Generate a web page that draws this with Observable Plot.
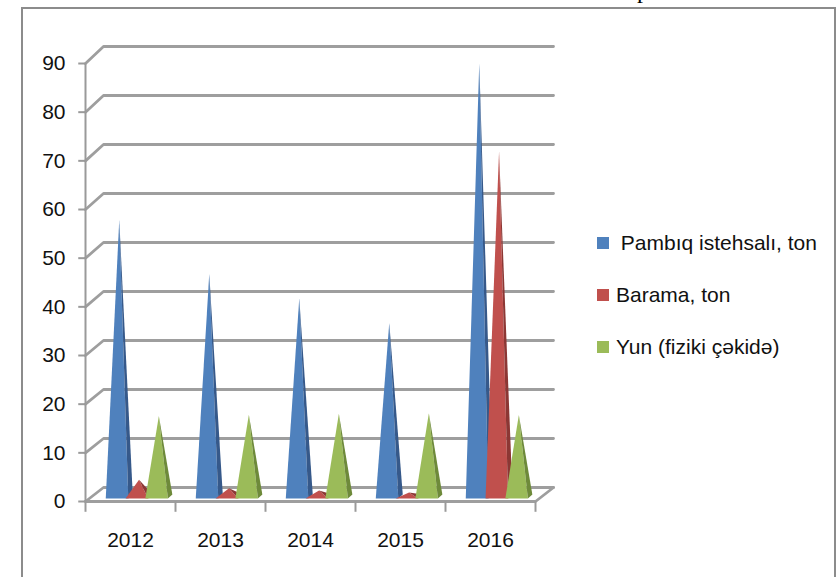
<!DOCTYPE html>
<html><head><meta charset="utf-8">
<script src="https://cdn.jsdelivr.net/npm/d3@7"></script>
<script src="https://cdn.jsdelivr.net/npm/@observablehq/plot@0.6"></script>
<style>
body{margin:0;background:#fff;}
#wrap{position:relative;width:839px;height:577px;overflow:hidden;background:#fff;font-family:"Liberation Sans",Arial,sans-serif;}
#frame{position:absolute;left:21px;top:7px;width:815px;height:620px;border:2px solid #8c8c8c;border-bottom:none;box-sizing:border-box;}
#pmark{position:absolute;left:637px;top:-22px;font-family:"Liberation Serif",serif;font-size:24px;line-height:24px;color:#000;}
#chart{position:absolute;left:0;top:0;}
#legend{position:absolute;left:597px;top:0;}
.item{position:absolute;left:0;white-space:pre;font-size:21px;line-height:24px;color:#111;height:24px;}
.sw{position:absolute;left:0;top:6px;width:12px;height:12px;}
.lab{position:absolute;top:0;}
</style></head><body>
<div id="wrap"><div id="frame"></div><div id="pmark">p</div><div id="chart"></div><div id="legend"></div></div>
<script>
const years = ["2012", "2013", "2014", "2015", "2016"];
const seriesNames = [" Pambıq istehsalı, ton", "Barama, ton", "Yun (fiziki çəkidə)"];
const pambiq = [56, 45, 40, 35, 88];
const barama = [3, 1.3, 0.8, 0.4, 70];
const yun = [16, 16.3, 16.5, 16.6, 16.2];
const yTicks = [0, 10, 20, 30, 40, 50, 60, 70, 80, 90];
const colors = ["#4F81BD", "#C0504D", "#9BBB59"];
const darkColors = ["#36598A", "#8C3734", "#6E8A3A"];

const seriesVals = [pambiq, barama, yun];
const front = t => -1.43 + 0.9932 * t;   // depth transform: front plane
const back = t => 1.43 + t;              // depth transform: back wall
const offsets = [-0.15, 0.07, 0.29];
const hw = 0.125, baseF = -0.8, baseB = 0.0, sideDx = 0.05, apexDx = 0.025;

const faceRows = [];
seriesVals.forEach((vals, s) => vals.forEach((v, i) => {
  const c = i + offsets[s];
  const f = [[c - hw, baseF], [c + hw, baseF], [c + apexDx, v]];
  const d = [[c + hw, baseF], [c + hw + sideDx, baseB], [c + apexDx, v]];
  f.forEach(([x, y]) => faceRows.push({id: `${i}-${s}-f`, x, y, fill: colors[s]}));
  d.forEach(([x, y]) => faceRows.push({id: `${i}-${s}-d`, x, y, fill: darkColors[s]}));
}));

const x0 = -0.5, x1 = years.length - 0.5, depthX = 0.2;
const gridRows = [];
yTicks.forEach(t => {
  gridRows.push({t, x: x0, y: front(t)});
  gridRows.push({t, x: x0 + depthX, y: back(t)});
  gridRows.push({t, x: x1 + depthX, y: back(t)});
});
const floorRows = [
  {x: x0, y: front(0)}, {x: x1, y: front(0)}, {x: x1 + depthX, y: back(0)}
];
const bounds = d3.range(years.length + 1).map(i => i - 0.5);

const chart = Plot.plot({
  width: 839, height: 577, margin: 0,
  x: {domain: [x0, x1], range: [85, 535], axis: null},
  y: {domain: [0, 90], range: [494, 53], axis: null},
  color: {type: "identity"},
  style: {fontFamily: '"Liberation Sans", Arial, sans-serif', background: "transparent", overflow: "visible"},
  marks: [
    Plot.line(gridRows, {x: "x", y: "y", z: "t", stroke: "#9e9e9e", strokeWidth: 2.8}),
    Plot.line(floorRows, {x: "x", y: "y", stroke: "#9e9e9e", strokeWidth: 2.8}),
    Plot.ruleX([x0], {y1: front(0), y2: front(90), stroke: "#9a9a9a", strokeWidth: 2}),
    Plot.ruleY(yTicks, {y: front, x1: x0 - 0.075, x2: x0, stroke: "#9a9a9a", strokeWidth: 2}),
    Plot.ruleX(bounds, {x: d => d, y1: front(0), y2: front(0) - 2.2, stroke: "#9a9a9a", strokeWidth: 2}),
    Plot.line(faceRows, {x: "x", y: "y", z: "id", fill: "fill", stroke: "none"}),
    Plot.text(yTicks, {x: x0, y: front, text: d => String(d), dx: -20, textAnchor: "end", fontSize: 21, fill: "#111"}),
    Plot.text(years, {x: (d, i) => i, y: -9.4, text: d => d, fontSize: 21, fill: "#111"})
  ]
});
document.getElementById("chart").appendChild(chart);

const legend = document.getElementById("legend");
const legendY = [231, 283, 335];
seriesNames.forEach((name, s) => {
  const it = document.createElement("div");
  it.className = "item";
  it.style.top = legendY[s] + "px";
  const sw = document.createElement("div");
  sw.className = "sw"; sw.style.background = colors[s];
  const lab = document.createElement("div");
  lab.className = "lab"; lab.style.left = (s === 0 ? 18 : 19) + "px";
  lab.textContent = name;
  it.appendChild(sw); it.appendChild(lab);
  legend.appendChild(it);
});
</script>
</body></html>
